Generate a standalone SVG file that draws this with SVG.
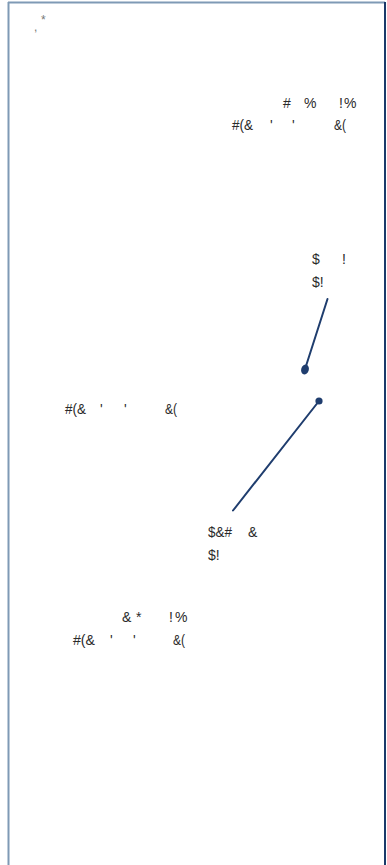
<svg xmlns="http://www.w3.org/2000/svg" width="387" height="865" viewBox="0 0 387 865">
<style>
.t{font-family:"Liberation Sans",Arial,sans-serif;font-size:14px;fill:#2a2a2a}
.s{font-family:"Liberation Sans",Arial,sans-serif;font-size:12px;fill:#777}
.c{stroke:#1f3d6e;stroke-width:2;fill:none;stroke-linecap:round}
.d{fill:#1f3d6e}
</style>
<rect width="387" height="865" fill="#fff"/>
<g id="frame">
<line x1="8.5" y1="2" x2="8.5" y2="865" stroke="#7f9ab5" stroke-width="2"/>
<line x1="8" y1="2.5" x2="385" y2="2.5" stroke="#7f9ab5" stroke-width="2"/>
<line x1="385" y1="2" x2="385" y2="865" stroke="#1a3a6a" stroke-width="2"/>
</g>
<g id="title">
<text class="s" x="41" y="24">*</text>
<text class="s" x="34" y="31">,</text>
</g>
<g id="node1">
<text class="t" x="283" y="108">#</text>
<text class="t" x="304" y="108">%</text>
<text class="t" x="339" y="108">!</text>
<text class="t" x="344" y="108">%</text>
<text class="t" x="232" y="130" textLength="21" lengthAdjust="spacingAndGlyphs">#(&amp;</text>
<text class="t" x="270" y="130">'</text>
<text class="t" x="292" y="130">'</text>
<text class="t" x="334" y="130" textLength="12" lengthAdjust="spacingAndGlyphs">&amp;(</text>
</g>
<g id="node2">
<text class="t" x="312" y="264">$</text>
<text class="t" x="342" y="264">!</text>
<text class="t" x="312" y="287">$!</text>
</g>
<g id="node3">
<text class="t" x="65" y="414" textLength="21" lengthAdjust="spacingAndGlyphs">#(&amp;</text>
<text class="t" x="100" y="414">'</text>
<text class="t" x="124" y="414">'</text>
<text class="t" x="165" y="414" textLength="12" lengthAdjust="spacingAndGlyphs">&amp;(</text>
</g>
<g id="node4">
<text class="t" x="208" y="537" textLength="24" lengthAdjust="spacingAndGlyphs">$&amp;#</text>
<text class="t" x="248" y="537">&amp;</text>
<text class="t" x="208" y="560">$!</text>
</g>
<g id="node5">
<text class="t" x="122" y="622">&amp;</text>
<text class="t" x="136" y="622">*</text>
<text class="t" x="169" y="622">!</text>
<text class="t" x="175" y="622">%</text>
<text class="t" x="73" y="645" textLength="22" lengthAdjust="spacingAndGlyphs">#(&amp;</text>
<text class="t" x="110" y="645">'</text>
<text class="t" x="133" y="645">'</text>
<text class="t" x="173" y="645" textLength="12" lengthAdjust="spacingAndGlyphs">&amp;(</text>
</g>
<g id="connectors">
<line class="c" x1="327.5" y1="299" x2="306" y2="366"/>
<ellipse class="d" cx="305" cy="369.5" rx="3.8" ry="5" transform="rotate(18 305 369.5)"/>
<line class="c" x1="319" y1="401" x2="233" y2="510.5"/>
<circle class="d" cx="319" cy="401" r="3.6"/>
</g>
</svg>
